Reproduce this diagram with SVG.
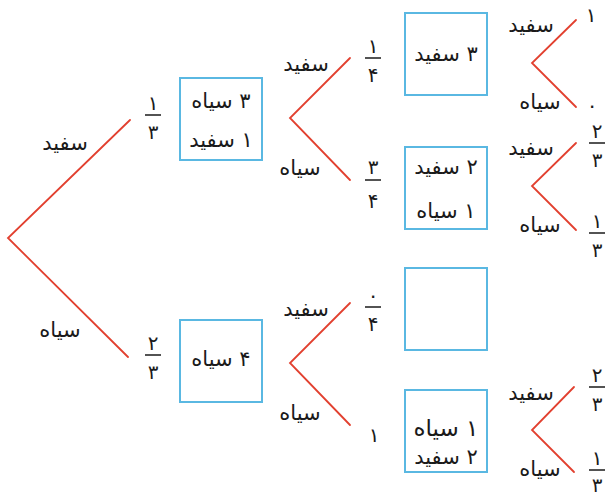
<svg xmlns="http://www.w3.org/2000/svg" width="605" height="497" viewBox="0 0 605 497">
<style>
.e{stroke:#e2402f;stroke-width:1.8;fill:none;stroke-linecap:round;stroke-linejoin:miter}
.b{fill:#fff;stroke:#5ab8e2;stroke-width:2}
text{font-family:"DejaVu Sans","Noto Sans",sans-serif;fill:#1a1a1a;font-size:21px;text-anchor:middle;direction:rtl;unicode-bidi:embed}
.l{font-size:21px}
.d{font-size:20px}
.bar{stroke:#1a1a1a;stroke-width:1.5}
</style>
<rect width="605" height="497" fill="#fff"/>
<g id="connectors">
<polyline class="e" points="130,120 8,238 128,357"/>
<polyline class="e" points="350,58 290,118 350,180"/>
<polyline class="e" points="350,303 290,363 350,425"/>
<polyline class="e" points="576,20 532,63 576,107"/>
<polyline class="e" points="576,143 532,186 576,230"/>
<polyline class="e" points="574,387 532,430 574,472"/>
</g>
<g id="edge-labels">
<text class="l" x="65" y="150">سفید</text>
<text class="l" x="60" y="337">سیاه</text>
<text class="l" x="306" y="71">سفید</text>
<text class="l" x="300" y="175">سیاه</text>
<text class="l" x="306" y="316">سفید</text>
<text class="l" x="300" y="420">سیاه</text>
<text class="l" x="531" y="32">سفید</text>
<text class="l" x="540" y="109">سیاه</text>
<text class="l" x="531" y="155">سفید</text>
<text class="l" x="540" y="232">سیاه</text>
<text class="l" x="531" y="400">سفید</text>
<text class="l" x="540" y="476">سیاه</text>
</g>
<g id="fractions">
<text class="d" x="153" y="110">۱</text><line class="bar" x1="145" y1="115" x2="161" y2="115"/><text class="d" x="153" y="139">۳</text>
<text class="d" x="153" y="350">۲</text><line class="bar" x1="145" y1="355" x2="161" y2="355"/><text class="d" x="153" y="379">۳</text>
<text class="d" x="373" y="53">۱</text><line class="bar" x1="365" y1="58" x2="381" y2="58"/><text class="d" x="373" y="82">۴</text>
<text class="d" x="373" y="174">۳</text><line class="bar" x1="365" y1="180" x2="381" y2="180"/><text class="d" x="373" y="208">۴</text>
<text class="d" x="373" y="302">۰</text><line class="bar" x1="365" y1="307" x2="381" y2="307"/><text class="d" x="373" y="331">۴</text>
<text class="d" x="374" y="442">۱</text>
<text class="d" x="591" y="22">۱</text>
<text class="d" x="592" y="112">۰</text>
<text class="d" x="597" y="138">۲</text><line class="bar" x1="589" y1="143" x2="605" y2="143"/><text class="d" x="597" y="167">۳</text>
<text class="d" x="597" y="228">۱</text><line class="bar" x1="589" y1="233" x2="605" y2="233"/><text class="d" x="597" y="257">۳</text>
<text class="d" x="597" y="382">۲</text><line class="bar" x1="589" y1="387" x2="605" y2="387"/><text class="d" x="597" y="411">۳</text>
<text class="d" x="597" y="465">۱</text><line class="bar" x1="589" y1="470" x2="605" y2="470"/><text class="d" x="597" y="492">۳</text>
</g>
<g id="box1">
<rect class="b" x="180" y="78" width="82" height="82"/>
<text x="221" y="108">۳ سیاه</text>
<text x="221" y="147">۱ سفید</text>
</g>
<g id="box2">
<rect class="b" x="180" y="320" width="82" height="82"/>
<text x="221" y="366">۴ سیاه</text>
</g>
<g id="box3">
<rect class="b" x="405" y="13" width="82" height="82"/>
<text x="446" y="61">۳ سفید</text>
</g>
<g id="box4">
<rect class="b" x="405" y="147" width="82" height="82"/>
<text x="446" y="174">۲ سفید</text>
<text x="446" y="218">۱ سیاه</text>
</g>
<g id="box5">
<rect class="b" x="405" y="268" width="82" height="82"/>
</g>
<g id="box6">
<rect class="b" x="405" y="390" width="82" height="82"/>
<text x="446" y="436" style="font-size:23px">۱ سیاه</text>
<text x="446" y="464">۲ سفید</text>
</g>
</svg>
